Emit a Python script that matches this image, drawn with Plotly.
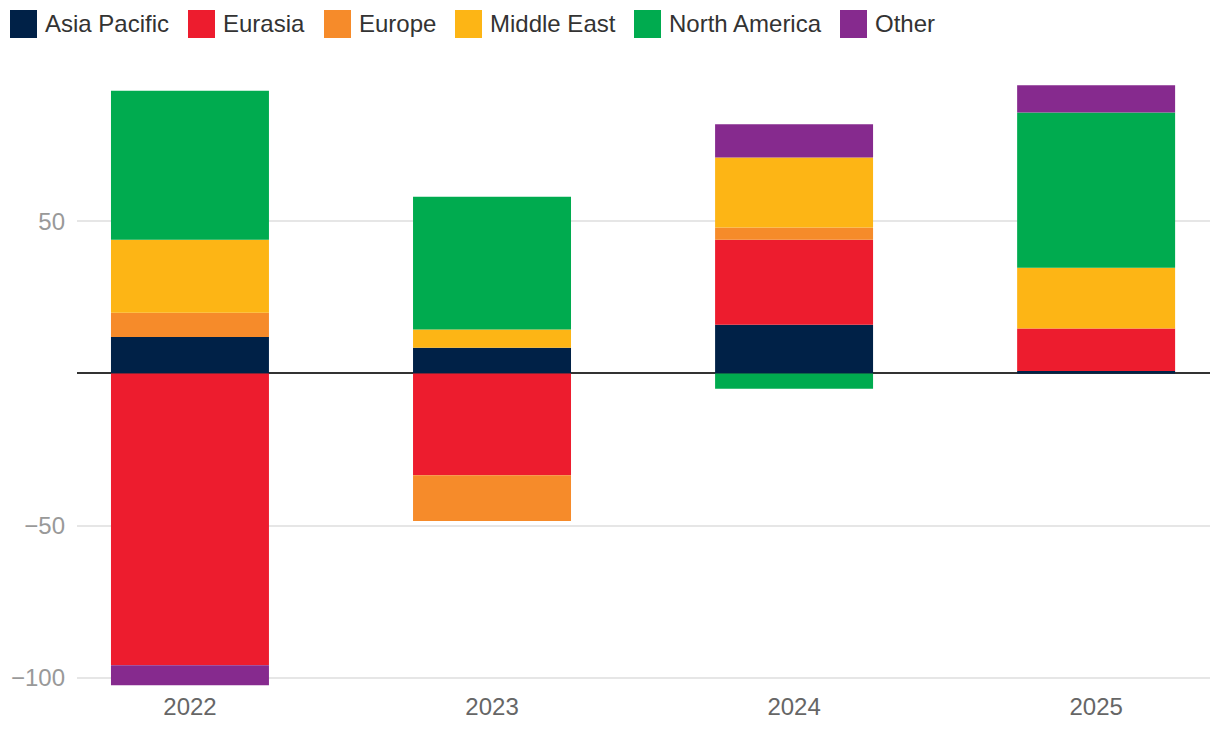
import plotly.graph_objects as go

years = ["2022", "2023", "2024", "2025"]
asia_pacific = [12, 8.5, 16, 0.8]
eurasia = [-96, -33.5, 28, 14]
europe = [8, -15, 4, 0]
middle_east = [24, 6, 23, 20]
north_america = [49, 43.6, -5, 51]
other = [-6.5, 0, 11, 9]

series = [
    ("Asia Pacific", asia_pacific, "#002147"),
    ("Eurasia", eurasia, "#ED1C2E"),
    ("Europe", europe, "#F68B2A"),
    ("Middle East", middle_east, "#FDB515"),
    ("North America", north_america, "#00AB4F"),
    ("Other", other, "#862A8E"),
]

# page body has an 8px margin; figure is drawn at (8, 8)
OFF = 8
W, H = 1220 - OFF, 738 - OFF
ML, MR, MT, MB = 77 - OFF, 10, 60 - OFF, 48
PW, PH = W - ML - MR, H - MT - MB

def px_x(px):  # page pixel -> paper coordinate
    return (px - OFF - ML) / PW

def px_y(py):
    return (H - MB - (py - OFF)) / PH

FONT = "Liberation Sans, Arial, Helvetica, sans-serif"

fig = go.Figure()
for name, vals, color in series:
    fig.add_trace(go.Bar(name=name, x=years, y=vals, marker_color=color,
                         marker_line_width=0, showlegend=False))

# custom legend (layout positions in page pixels)
legend_left = [10, 188, 324, 455, 634, 840]
shapes = []
annotations = []
for (name, _, color), lx in zip(series, legend_left):
    shapes.append(dict(type="rect", xref="paper", yref="paper",
                       x0=px_x(lx), x1=px_x(lx + 27), y0=px_y(38), y1=px_y(10),
                       fillcolor=color, line_width=0, layer="above"))
    annotations.append(dict(text=name, xref="paper", yref="paper",
                            x=px_x(lx + 33), y=px_y(24), xanchor="left",
                            yanchor="middle", showarrow=False,
                            font=dict(family=FONT, size=24, color="#333")))

fig.update_layout(
    barmode="relative",
    bargap=0.477,
    width=W, height=H,
    margin=dict(l=ML, r=MR, t=MT, b=MB),
    paper_bgcolor="white", plot_bgcolor="white",
    font=dict(family=FONT, size=24, color="#333"),
    showlegend=False,
    shapes=shapes,
    annotations=annotations,
    xaxis=dict(range=[-0.374, 3.377], showgrid=False, showline=False,
               automargin=False,
               tickfont=dict(size=24, color="#666"), ticks=""),
    yaxis=dict(range=[-104.1, 103.1], tickvals=[-100, -50, 50],
               ticktext=["\u2212100", "\u221250", "50"],
               automargin=False, ticklabelstandoff=11,
               showgrid=True, gridcolor="#e6e6e6", gridwidth=1.5,
               zeroline=True, zerolinecolor="#333", zerolinewidth=2,
               tickfont=dict(size=24, color="#999"), ticks="", showline=False),
)

fig.write_html("out.html")
